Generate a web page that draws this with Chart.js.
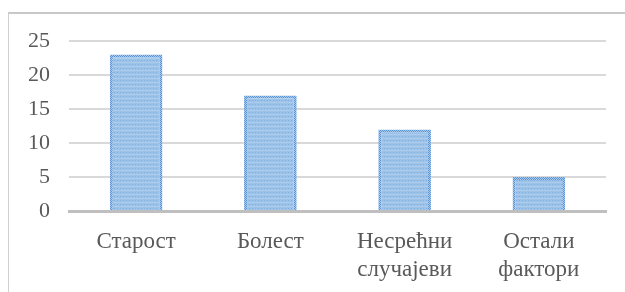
<!DOCTYPE html>
<html>
<head>
<meta charset="utf-8">
<script src="https://cdn.jsdelivr.net/npm/chart.js@4.4.1/dist/chart.umd.min.js"></script>
<style>
  html, body { margin: 0; padding: 0; background: #ffffff; }
  #wrap { position: relative; width: 625px; height: 292px; overflow: hidden; }
  #frame { position: absolute; left: 8px; top: 12px; width: 640px; height: 300px;
           border-left: 1.5px solid #d0d0d0; border-top: 2px solid #c8c8c8; box-sizing: border-box; }
  canvas { position: absolute; left: 0; top: 0; }
</style>
</head>
<body>
<div id="wrap">
  <div id="frame"></div>
  <canvas id="c" width="625" height="292"></canvas>
</div>
<script>
// ---- data ----
const categories = [["Старост"], ["Болест"], ["Несрећни", "случајеви"], ["Остали", "фактори"]];
const values = [23, 17, 12, 5];
const yTicks = [0, 5, 10, 15, 20, 25];

// ---- dotted fill patterns ----
function makeFill() {
  const p = document.createElement('canvas');
  p.width = 6; p.height = 4;
  const g = p.getContext('2d');
  g.fillStyle = '#9cc2e8';
  g.fillRect(0, 0, 6, 4);
  g.fillStyle = '#accced';
  g.fillRect(0, 2, 6, 1);
  g.fillStyle = '#7fb0e2';
  g.fillRect(0, 0, 1, 1);
  g.fillRect(3, 0, 1, 1);
  return g.createPattern(p, 'repeat');
}
function makeEdge() {
  const p = document.createElement('canvas');
  p.width = 2; p.height = 2;
  const g = p.getContext('2d');
  g.fillStyle = '#a6c8ec';
  g.fillRect(0, 0, 2, 2);
  g.fillStyle = '#5b95d6';
  g.fillRect(0, 0, 1, 1);
  g.fillRect(1, 1, 1, 1);
  return g.createPattern(p, 'repeat');
}
const ctx = document.getElementById('c').getContext('2d');

const fam = '"Liberation Serif", "Times New Roman", serif';

new Chart(ctx, {
  type: 'bar',
  data: {
    labels: categories,
    datasets: [{
      data: values,
      backgroundColor: makeFill(),
      borderColor: makeEdge(),
      borderWidth: 3,
      borderSkipped: 'bottom',
      categoryPercentage: 0.8,
      barPercentage: 0.49
    }]
  },
  options: {
    responsive: false,
    animation: false,
    devicePixelRatio: 1,
    layout: { padding: { top: 41, right: 19, left: 0, bottom: 0 } },
    plugins: { legend: { display: false }, tooltip: { enabled: false } },
    scales: {
      x: {
        grid: { display: false, drawTicks: false },
        border: { display: true, color: '#bfbfbf', width: 3 },
        ticks: { color: '#595959', font: { family: fam, size: 23, lineHeight: 1.22 }, padding: 17, maxRotation: 0, autoSkip: false },
        afterFit: (s) => { s.height = 81; }
      },
      y: {
        min: 0, max: 25,
        afterBuildTicks: (s) => { s.ticks = yTicks.map(v => ({ value: v })); },
        grid: { color: '#d9d9d9', lineWidth: 2, drawTicks: false },
        border: { display: false },
        ticks: { color: '#595959', font: { family: fam, size: 22 }, padding: 19 },
        afterFit: (s) => { s.width = 69; }
      }
    }
  }
});
</script>
</body>
</html>
